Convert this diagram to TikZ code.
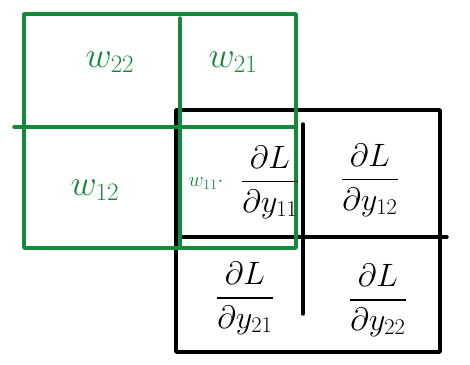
\documentclass[tikz,border=0pt]{standalone}
\usepackage{amsmath}
\usepackage{graphicx}
\definecolor{inkgreen}{RGB}{18,138,58}
\newcommand{\biglabel}[2]{\scalebox{#1}{$#2$}}
\tikzset{wlabel/.style={text=inkgreen,font=\fontsize{24}{28}\selectfont},
  glabel/.style={font=\fontsize{24}{28}\selectfont}}
\begin{document}
\begin{tikzpicture}[x=1pt,y=-1pt,line width=3.4pt,line cap=round,line join=round]
            \useasboundingbox (0,0) rectangle (470,364);
            \draw (176,110) rectangle (440,352);
            \draw (303,124)--(303,314);
            \draw (180,237)--(447,237);
            \draw[inkgreen] (24,14) rectangle (296,248);
            \draw[inkgreen] (180,18)--(180,248);
            \draw[inkgreen] (14,127)--(296,127);
            \node[wlabel] (w22) at (110,62) {\biglabel{1.45}{w_{22}}};
            \node[wlabel] (w21) at (233,62) {\biglabel{1.45}{w_{21}}};
            \node[wlabel] (w12) at (95,190) {\biglabel{1.45}{w_{12}}};
            \node[wlabel,font=\fontsize{20}{24}\selectfont] (w11) at (206,183) {$w_{11}\cdot$};
            \node[glabel] (d11) at (270,182) {\biglabel{1.3}{\dfrac{\partial L}{\partial y_{11}}}};
            \node[glabel] (d12) at (370,180) {\biglabel{1.3}{\dfrac{\partial L}{\partial y_{12}}}};
            \node[glabel] (d21) at (245,298) {\biglabel{1.3}{\dfrac{\partial L}{\partial y_{21}}}};
            \node[glabel] (d22) at (378,300) {\biglabel{1.3}{\dfrac{\partial L}{\partial y_{22}}}};
        \end{tikzpicture}
\end{document}
